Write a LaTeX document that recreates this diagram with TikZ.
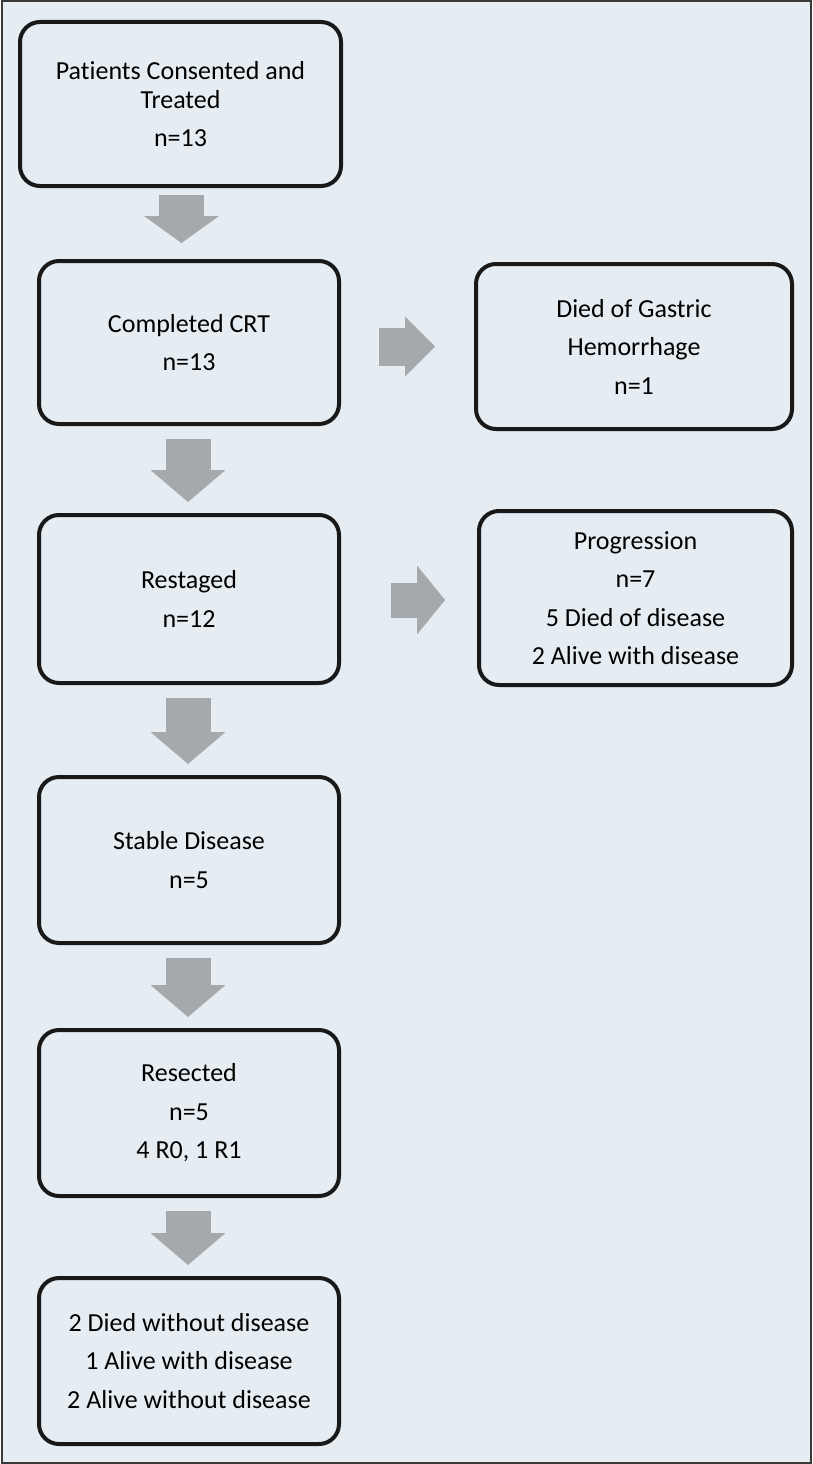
\documentclass[tikz,border=0pt]{standalone}
\usepackage{fontspec}
\setmainfont{Carlito}[Ligatures=NoCommon]
\usepackage{tikz}
\usetikzlibrary{arrows.meta}
\definecolor{panelbg}{HTML}{E5EDF2}
\definecolor{arrgrey}{HTML}{A6A9AC}
\definecolor{framegrey}{HTML}{3A3A3A}
\tikzset{
  stagebox/.style={draw=black!90, line width=4pt, rounded corners=20pt,
    align=center, inner sep=0pt, text=black,
    font=\fontsize{26}{38.5}\selectfont},
  downarr/.style={draw=arrgrey, line width=45pt,
    -{Triangle[length=32pt 0 0, width=75pt 0 0, line width=0pt 0 0, fill=arrgrey]},
    shorten <=13pt, shorten >=11pt},
  sidearr/.style={draw=arrgrey, line width=38pt,
    -{Triangle[length=30pt 0 0, width=60pt 0 0, line width=0pt 0 0, fill=arrgrey]}}
}
\begin{document}
\begin{tikzpicture}[x=1pt, y=-1pt]
\useasboundingbox (0,0) rectangle (812,1464);
\draw[framegrey, line width=2pt, fill=panelbg] (1.5,1.5) rectangle (810.5,1462.5);

% left column
\node[stagebox, minimum width=321pt, minimum height=164pt] (treated) at (180.5,104)
  {Patients Consented and\\[-9.5pt] Treated\\ n=13};
\node[stagebox, minimum width=300pt, minimum height=163pt] (crt) at (189,342.5)
  {Completed CRT\\ n=13};
\node[stagebox, minimum width=300pt, minimum height=168pt] (restaged) at (189,599)
  {Restaged\\ n=12};
\node[stagebox, minimum width=300pt, minimum height=166pt] (stable) at (189,860)
  {Stable Disease\\ n=5};
\node[stagebox, minimum width=300pt, minimum height=166pt] (resected) at (189,1113)
  {Resected\\ n=5\\ 4 R0, 1 R1};
\node[stagebox, minimum width=300pt, minimum height=166pt] (outcome) at (189,1361)
  {2 Died without disease\\ 1 Alive with disease\\ 2 Alive without disease};

% right column
\node[stagebox, minimum width=316pt, minimum height=165pt] (hemorrhage) at (634,346.5)
  {Died of Gastric\\ Hemorrhage\\ n=1};
\node[stagebox, minimum width=313pt, minimum height=174pt] (progression) at (635.5,598)
  {Progression\\ n=7\\ 5 Died of disease\\ 2 Alive with disease};

% block arrows
\draw[downarr, shorten <=7pt, shorten >=16pt,
  -{Triangle[length=27pt 0 0, width=75pt 0 0, line width=0pt 0 0, fill=arrgrey]}]
  ([xshift=1pt]treated.south) -- ([xshift=1pt]treated.south |- crt.north);
\draw[downarr] ([xshift=-1pt]crt.south) -- ([xshift=-1pt]restaged.north);
\draw[downarr] ([xshift=-1pt]restaged.south) -- ([xshift=-1pt]stable.north);
\draw[downarr] ([xshift=-1pt]stable.south) -- ([xshift=-1pt]resected.north);
\draw[downarr] ([xshift=-1pt]resected.south) -- ([xshift=-1pt]outcome.north);

\draw[sidearr, shorten <=38pt, shorten >=39pt] (crt.east |- hemorrhage.west) -- (hemorrhage.west);
\draw[sidearr, line width=35pt, shorten <=50pt, shorten >=32pt,
  -{Triangle[length=28pt 0 0, width=69pt 0 0, line width=0pt 0 0, fill=arrgrey]}]
  ([yshift=-1pt]restaged.east) -- ([yshift=-1pt]restaged.east -| progression.west);
\end{tikzpicture}
\end{document}
